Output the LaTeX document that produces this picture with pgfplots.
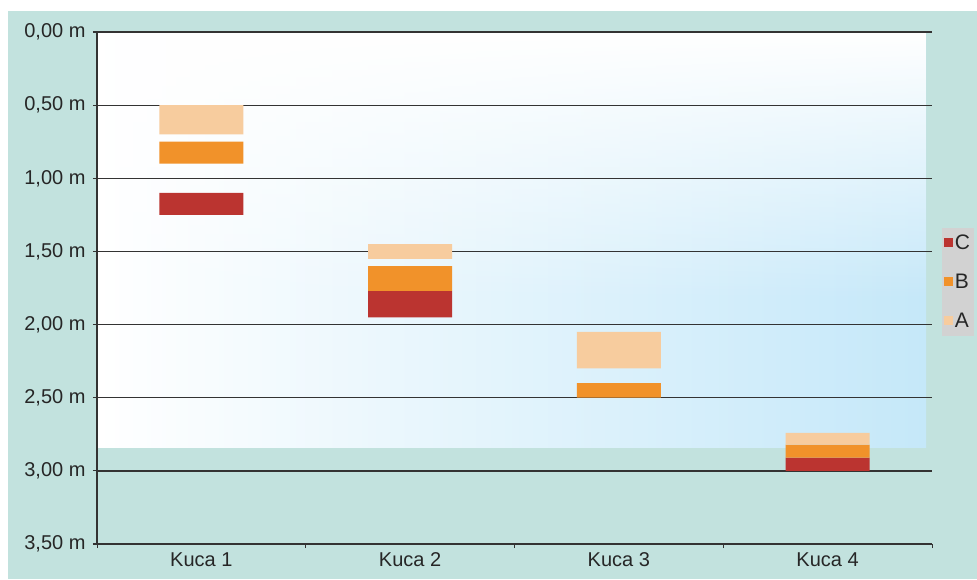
\documentclass[border=0pt]{standalone}
\usepackage{pgfplots}
\pgfplotsset{compat=1.18}
\usepackage{pgfplotstable}
\usetikzlibrary{shadings,fadings}
\usepackage{fontspec}
\setmainfont{Liberation Sans}
\definecolor{bgteal}{HTML}{C2E2DE}
\definecolor{colA}{HTML}{F7CC9E}
\definecolor{colB}{HTML}{F1922A}
\definecolor{colC}{HTML}{BB3430}
\definecolor{plotblue}{HTML}{C5E8F9}
\definecolor{gridc}{HTML}{333333}
\definecolor{legbg}{HTML}{D2D2D2}
\tikzfading[name=topfade, top color=transparent!0, bottom color=transparent!100]

% x, gap0, A, gap1, B, gap2, C  (depths in m)
\pgfplotstableread{
x gap0 A gap1 B gap2 C
1 0.50 0.20 0.05 0.15 0.20 0.15
2 1.45 0.10 0.05 0.17 0.00 0.18
3 2.05 0.25 0.10 0.10 0.00 0.00
4 2.74 0.08 0.00 0.09 0.00 0.09
}\depths

\begin{document}
\begin{tikzpicture}[x=1pt,y=1pt]
\fill[white] (0,0) rectangle (977,-579);
\fill[bgteal] (8,-11) rectangle (977,-579);
\shade[left color=white, right color=plotblue] (97,-32) rectangle (926,-447);
\fill[white, path fading=topfade] (97,-32) rectangle (926,-300);
\begin{axis}[
  at={(97pt,-544pt)}, anchor=south west,
  scale only axis, width=835pt, height=512pt,
  y dir=reverse,
  ymin=0, ymax=3.5, ytick={0,0.5,...,3.5},
  xmin=0.5, xmax=4.5,
  xtick={1,2,3,4}, xticklabels={Kuca 1,Kuca 2,Kuca 3,Kuca 4},
  minor xtick={0.5,1.5,2.5,3.5,4.5},
  major x tick style={draw=none},
  minor x tick style={gridc, line width=0.9pt},
  minor tick length=4pt, major tick length=4pt,
  tick align=outside, tick pos=left,
  axis line style={gridc, line width=1.1pt},
  axis x line*=bottom, axis y line*=left,
  ymajorgrids, major grid style={gridc, line width=1.3pt},
  y tick style={gridc, line width=1.1pt},
  /pgf/number format/assume math mode=true,
  yticklabel={\pgfmathprintnumber[fixed, fixed zerofill, precision=2, use comma]{\tick}~m},
  tick label style={font=\fontsize{20}{24}\selectfont, text=black!85},
  yticklabel style={xshift=-4pt},
  xticklabel style={yshift=-1pt},
  ybar stacked, bar width=84pt,
  legend style={at={(1.0115,0.618)}, anchor=north west, fill=legbg, draw=none,
    font=\fontsize{21}{24}\selectfont, text=black!85, row sep=19pt,
    inner xsep=2pt, inner ysep=5pt, cells={anchor=west}},
  legend image code/.code={\fill[#1] (0pt,-4.5pt) rectangle (9pt,4.5pt);},
  reverse legend,
  clip=false,
]
\addplot[draw=none, fill=none, forget plot] table[x=x, y=gap0] {\depths};
\addplot[draw=none, fill=colA] table[x=x, y=A] {\depths};
\addplot[draw=none, fill=none, forget plot] table[x=x, y=gap1] {\depths};
\addplot[draw=none, fill=colB] table[x=x, y=B] {\depths};
\addplot[draw=none, fill=none, forget plot] table[x=x, y=gap2] {\depths};
\addplot[draw=none, fill=colC] table[x=x, y=C] {\depths};
\legend{A,B,C}
\end{axis}
\end{tikzpicture}
\end{document}
